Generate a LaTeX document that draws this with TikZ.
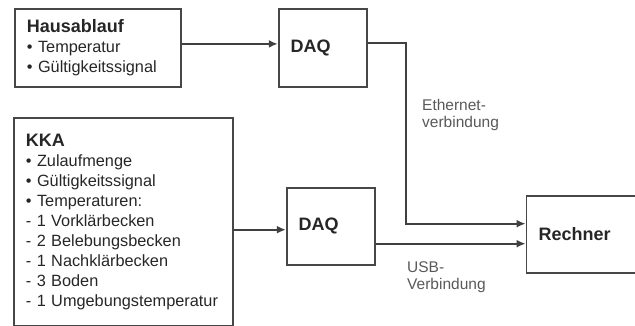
\documentclass[tikz,border=0pt]{standalone}
\usepackage{fontspec}
\setmainfont{Liberation Sans}
\usetikzlibrary{arrows.meta, positioning}

\begin{document}
\begin{tikzpicture}[
        x=1pt, y=1pt,
        every node/.style={font=\fontsize{16.3}{20}\selectfont, text=black!85},
        unit/.style={rectangle, draw=black!72, line width=1.8pt, align=left, inner xsep=12pt, inner ysep=0pt},
        arr/.style={-{Latex[length=9pt, width=8pt]}, line width=1.8pt, draw=black!75},
        note/.style={font=\fontsize{15.5}{17}\selectfont, text=black!65, align=left, inner sep=0pt, anchor=north west}
    ]
        \useasboundingbox (0,0) rectangle (635,-325);
        \node[unit, anchor=north west, text width=142pt, minimum height=78pt] (haus) at (14,-8)
            {{\fontsize{18}{20}\selectfont\bfseries Hausablauf}\\
             \textbullet{} Temperatur\\
             \textbullet{} Gültigkeitssignal};
        \node[unit, right=96pt of haus, text width=64pt, minimum height=78pt] (daqhaus)
            {{\fontsize{18}{20}\selectfont\bfseries DAQ}};
        \node[unit, below=29pt of haus.south west, anchor=north west, text width=195pt, minimum height=208pt, xshift=-1pt] (kka)
            {{\fontsize{18}{20}\selectfont\bfseries KKA}\\
             \textbullet{} Zulaufmenge\\
             \textbullet{} Gültigkeitssignal\\
             \textbullet{} Temperaturen:\\
             - 1 Vorklärbecken\\
             - 2 Belebungsbecken\\
             - 1 Nachklärbecken\\
             - 3 Boden\\
             - 1 Umgebungstemperatur};
        \node[unit, right=52pt of kka, yshift=-4.5pt, text width=64pt, minimum height=77pt] (daqkka)
            {{\fontsize{18}{20}\selectfont\bfseries DAQ}};
        \node[unit, right=150pt of daqkka, yshift=-8pt, text width=87pt, minimum height=77pt] (rechner)
            {{\fontsize{18}{20}\selectfont\bfseries Rechner}};
        % connectors
        \draw[arr] ([yshift=4pt]haus.east) -- ([yshift=4pt]haus.east -| daqhaus.west);
        \draw[arr] ([yshift=5pt]daqhaus.east) -- ++(38,0) |- ([yshift=10.5pt]rechner.west);
        \draw[arr] ([yshift=-8pt]kka.east) -- ([yshift=-8pt]kka.east -| daqkka.west);
        \draw[arr] ([yshift=-17.5pt]daqkka.east) -- ([yshift=-17.5pt]daqkka.east -| rechner.west);
        % labels
        \node[note] (eth) at (422,-99) {Ethernet-\\verbindung};
        \node[note] (usb) at (407,-261) {USB-\\Verbindung};
    \end{tikzpicture}
\end{document}
